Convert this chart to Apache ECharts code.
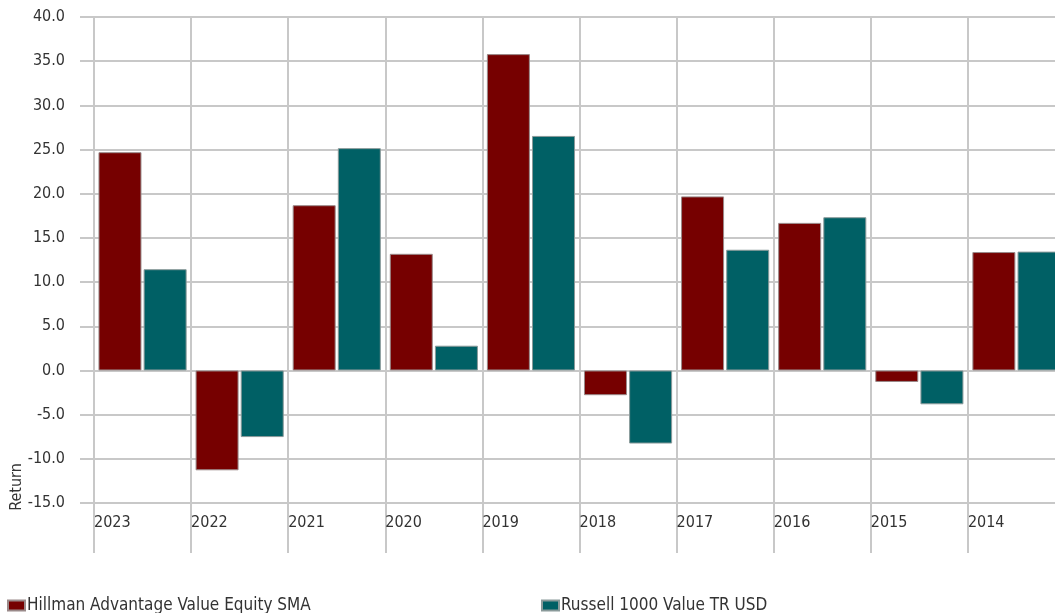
<!DOCTYPE html>
<html>
<head>
<meta charset="utf-8">
<script src="https://cdn.jsdelivr.net/npm/echarts@6/dist/echarts.min.js"></script>
<style>
  html, body { margin: 0; padding: 0; background: #fff; }
  #chart { width: 1055px; height: 613px; }
</style>
</head>
<body>
<div id="chart"></div>
<script>
const years = ['2023', '2022', '2021', '2020', '2019', '2018', '2017', '2016', '2015', '2014']
const hillman = [24.7, -11.3, 18.7, 13.2, 35.8, -2.8, 19.7, 16.7, -1.3, 13.4]
const russell = [11.46, -7.54, 25.16, 2.80, 26.54, -8.27, 13.66, 17.34, -3.83, 13.45]
const yTicks = { min: -15, max: 40, interval: 5 }

const font = "'Liberation Sans Narrow', 'DejaVu Sans Condensed', sans-serif"
const gridColor = '#c8c8c8'

const chart = echarts.init(document.getElementById('chart'))

// the plot runs past the right edge of the picture, so the last bar is cut
chart.setOption({
  animation: false,
  textStyle: { fontFamily: font },
  grid: { left: 94, width: 971, top: 17, height: 486, outerBoundsMode: 'none' },
  legend: [
    {
      data: ['Hillman Advantage Value Equity SMA'],
      left: 7, top: 597, padding: 0,
      icon: 'rect', itemWidth: 17, itemHeight: 10, itemGap: 3,
      textStyle: { fontFamily: font, fontSize: 17, color: '#333', padding: [0, 0, 0, -3] }
    },
    {
      data: ['Russell 1000 Value TR USD'],
      left: 541, top: 597, padding: 0,
      icon: 'rect', itemWidth: 17, itemHeight: 10, itemGap: 3,
      textStyle: { fontFamily: font, fontSize: 17, color: '#333', padding: [0, 0, 0, -3] }
    }
  ],
  xAxis: [
    {
      type: 'category',
      data: years,
      boundaryGap: true,
      axisLine: { show: false, onZero: false },
      axisTick: { show: true, length: 50, lineStyle: { color: gridColor, width: 2 } },
      axisLabel: { show: false },
      splitLine: { show: true, lineStyle: { color: gridColor, width: 2 } }
    },
    {
      type: 'value',
      min: 0, max: years.length, interval: 1,
      position: 'bottom',
      axisLine: { show: false, onZero: false },
      axisTick: { show: false },
      splitLine: { show: false },
      axisLabel: {
        align: 'left',
        margin: 12,
        fontSize: 16,
        color: '#333',
        fontFamily: font,
        showMaxLabel: false,
        formatter: v => years[v] || ''
      }
    }
  ],
  yAxis: {
    type: 'value',
    min: yTicks.min, max: yTicks.max, interval: yTicks.interval,
    axisLine: { show: false },
    axisTick: { show: true, length: 14, lineStyle: { color: gridColor, width: 2 } },
    axisLabel: {
      margin: 29,
      fontSize: 16,
      color: '#333',
      fontFamily: font,
      formatter: v => v.toFixed(1)
    },
    splitLine: { show: true, lineStyle: { color: gridColor, width: 2 } }
  },
  graphic: [
    {
      type: 'text',
      x: 17, y: 487,
      rotation: Math.PI / 2,
      style: {
        text: 'Return',
        fontFamily: font,
        fontSize: 16,
        fill: '#333',
        align: 'center',
        verticalAlign: 'middle'
      }
    }
  ],
  series: [
    {
      name: 'Hillman Advantage Value Equity SMA',
      type: 'bar',
      xAxisIndex: 0,
      data: hillman,
      barWidth: 43,
      barGap: '5%',
      itemStyle: { color: '#760000', borderColor: '#9a8a8a', borderWidth: 1 }
    },
    {
      name: 'Russell 1000 Value TR USD',
      type: 'bar',
      xAxisIndex: 0,
      data: russell,
      barWidth: 43,
      barGap: '5%',
      itemStyle: { color: '#006065', borderColor: '#8a9a9a', borderWidth: 1 }
    }
  ]
})

window.addEventListener('resize', () => chart.resize())
</script>
</body>
</html>
